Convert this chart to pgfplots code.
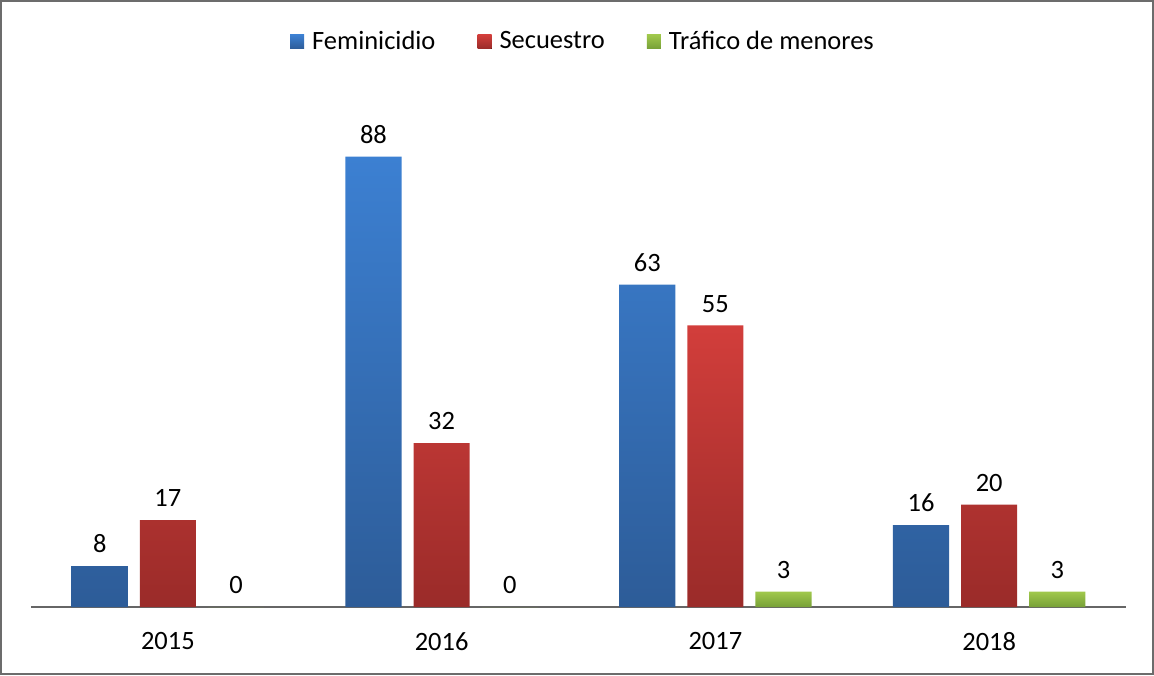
\documentclass[border=0pt]{standalone}
\usepackage{pgfplots}
\pgfplotsset{compat=1.18}
\usepackage{fontspec}
\setmainfont{Carlito}
\definecolor{bluetop}{HTML}{3C80D2}
\definecolor{bluebot}{HTML}{2D5C98}
\definecolor{redtop}{HTML}{D23E3B}
\definecolor{redbot}{HTML}{9A2B29}
\definecolor{greentop}{HTML}{A0C84C}
\definecolor{greenbot}{HTML}{77A037}
\begin{document}
\begin{tikzpicture}
\begin{axis}[
  name=ax,
  scale only axis,
  width=546.5pt, height=255.5pt,
  xmin=-0.5, xmax=3.5, ymin=0, ymax=100,
  ybar=6pt, bar width=28pt,
  hide y axis,
  axis x line*=bottom,
  x axis line style={-, draw=gray!80!black, line width=0.9pt},
  xtick={0,1,2,3},
  xticklabels={2015,2016,2017,2018},
  major tick length=0pt,
  xticklabel style={font=\fontsize{13.2}{15}\selectfont, yshift=-9pt},
  /pgf/number format/assume math mode=true,
  nodes near coords,
  every node near coord/.append style={font=\fontsize{13.2}{15}\selectfont, yshift=3pt, black},
  legend style={at={(axis description cs:0.505,1.104)}, anchor=center, draw=none,
    font=\fontsize{13.2}{15}\selectfont, legend columns=-1,
    /tikz/every even column/.append style={column sep=19pt}},
  legend image code/.code={\fill[#1] (0pt,-3.5pt) rectangle (7pt,3.5pt); \path (9pt,0pt);},
  clip=false,
]
\addplot[draw=none, top color=bluetop, bottom color=bluebot] coordinates {(0,8) (1,88) (2,63) (3,16)};
\addplot[draw=none, top color=redtop, bottom color=redbot] coordinates {(0,17) (1,32) (2,55) (3,20)};
\addplot[draw=none, top color=greentop, bottom color=greenbot] coordinates {(0,0) (1,0) (2,3) (3,3)};
\legend{Feminicidio, Secuestro, Tráfico de menores}
\end{axis}
\draw[gray!85!black, line width=0.9pt] ([shift={(-15pt,-33.5pt)}]ax.south west) rectangle ([shift={(13.5pt,47pt)}]ax.north east);
\end{tikzpicture}
\end{document}
